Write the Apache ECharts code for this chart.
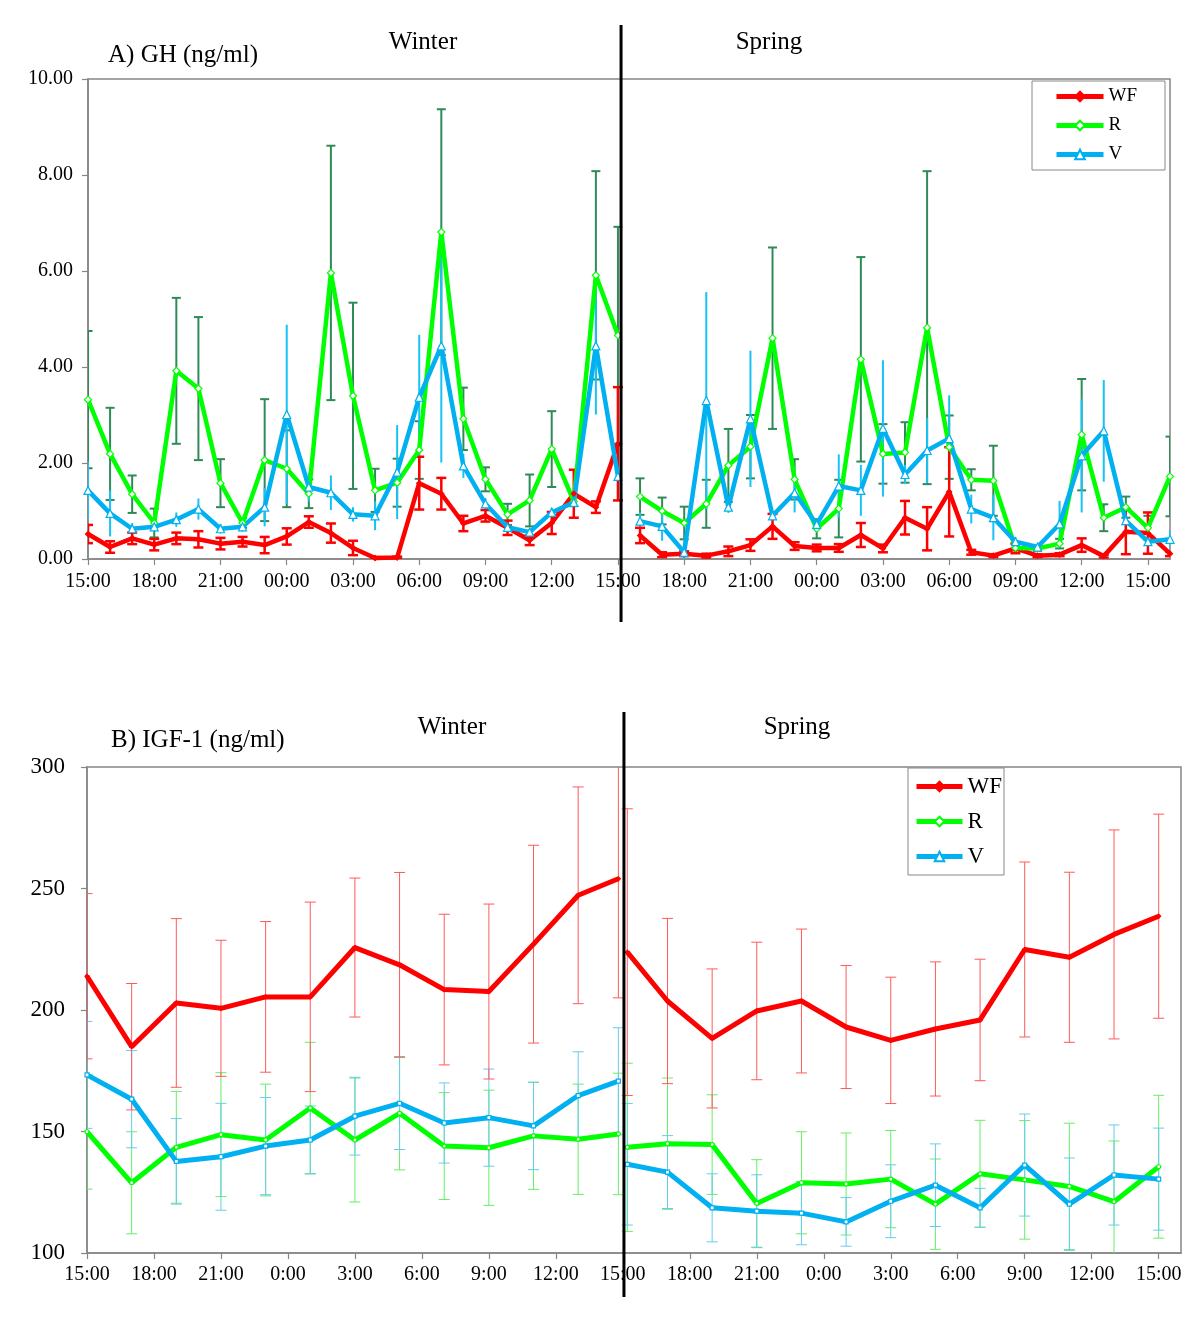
<!DOCTYPE html>
<html>
<head>
<meta charset="utf-8">
<script src="https://cdn.jsdelivr.net/npm/echarts@6/dist/echarts.min.js"></script>
<style>
html,body{margin:0;padding:0;background:#fff;}
#chart{width:1200px;height:1329px;}
</style>
</head>
<body>
<div id="chart"></div>
<script>
// ---------- Panel A: GH (ng/ml), hourly samples ----------
// hours elapsed since 15:00 on the first day
const ghWinterHours = [0,1,2,3,4,5,6,7,8,9,10,11,12,13,14,15,16,17,18,19,20,21,22,23,24];
const ghSpringHours = [25,26,27,28,29,30,31,32,33,34,35,36,37,38,39,40,41,42,43,44,45,46,47,48,49];
const tickLabelsA = ['15:00','18:00','21:00','00:00','03:00','06:00','09:00','12:00','15:00','18:00','21:00','00:00','03:00','06:00','09:00','12:00','15:00'];

const ghWF_winter    = [0.52,0.25,0.43,0.30,0.43,0.41,0.32,0.36,0.29,0.47,0.77,0.54,0.23,0.02,0.03,1.58,1.36,0.74,0.90,0.65,0.39,0.75,1.36,1.08,2.40];
const ghWF_winterErr = [0.19,0.12,0.12,0.12,0.12,0.17,0.12,0.10,0.17,0.17,0.12,0.20,0.15,0.02,0.02,0.55,0.33,0.16,0.12,0.15,0.10,0.23,0.50,0.12,1.18];
const ghR_winter     = [3.32,2.19,1.35,0.75,3.92,3.55,1.58,0.75,2.06,1.88,1.36,5.96,3.40,1.43,1.59,2.27,6.81,2.92,1.66,0.93,1.22,2.29,1.20,5.91,4.66];
const ghR_winterErr  = [1.43,0.96,0.39,0.30,1.52,1.49,0.50,0.10,1.27,0.80,0.30,2.65,1.94,0.45,0.50,0.60,2.56,0.65,0.25,0.22,0.54,0.79,0.10,2.17,2.26];
const ghV_winter     = [1.43,0.95,0.63,0.67,0.82,1.04,0.63,0.67,1.08,3.01,1.50,1.38,0.93,0.90,1.81,3.37,4.44,1.94,1.15,0.66,0.56,0.97,1.18,4.44,1.72];
const ghV_winterErr  = [0.60,0.48,0.12,0.05,0.15,0.22,0.10,0.10,0.40,1.87,0.30,0.36,0.15,0.30,0.98,1.30,2.43,0.25,0.12,0.10,0.05,0.10,0.10,1.43,0.30];

const ghWF_spring    = [0.49,0.09,0.11,0.07,0.16,0.29,0.68,0.27,0.23,0.23,0.50,0.22,0.86,0.63,1.40,0.14,0.07,0.22,0.07,0.09,0.29,0.06,0.57,0.54,0.11];
const ghWF_springErr = [0.16,0.05,0.05,0.04,0.10,0.12,0.26,0.08,0.07,0.08,0.25,0.08,0.35,0.45,0.93,0.05,0.03,0.10,0.03,0.03,0.14,0.03,0.47,0.43,0.05];
const ghR_spring     = [1.30,1.00,0.75,1.15,1.95,2.34,4.60,1.66,0.63,1.05,4.16,2.19,2.22,4.82,2.33,1.65,1.63,0.23,0.22,0.32,2.59,0.86,1.08,0.65,1.72];
const ghR_springErr  = [0.38,0.28,0.34,0.50,0.76,0.66,1.89,0.42,0.20,0.60,2.13,0.62,0.63,3.26,0.66,0.22,0.73,0.10,0.05,0.10,1.16,0.28,0.22,0.25,0.83];
const ghV_spring     = [0.79,0.68,0.14,3.30,1.08,2.92,0.90,1.38,0.72,1.52,1.43,2.72,1.76,2.26,2.51,1.04,0.86,0.36,0.25,0.73,2.15,2.67,0.80,0.36,0.41];
const ghV_springErr  = [0.18,0.30,0.25,2.26,0.12,1.42,0.10,0.41,0.10,0.66,0.53,1.42,0.20,0.68,0.90,0.30,0.47,0.10,0.06,0.48,1.18,1.06,0.25,0.10,0.20];

// ---------- Panel B: IGF-1 (ng/ml), 2-hourly samples ----------
const igfWinterHours = [0,2,4,6,8,10,12,14,16,18,20,22,23.8];
const igfSpringHours = [24.2,26,28,30,32,34,36,38,40,42,44,46,48];
const tickLabelsB = ['15:00','18:00','21:00','0:00','3:00','6:00','9:00','12:00','15:00','18:00','21:00','0:00','3:00','6:00','9:00','12:00','15:00'];

const igfWF_winter    = [213.9,184.9,202.9,200.7,205.4,205.4,225.7,218.6,208.4,207.6,227.1,247.2,254.0];
const igfWF_winterErr = [34,26,34.7,28,31,39,28.6,38,31,36,40.7,44.6,49];
const igfR_winter     = [149.9,128.9,143.5,148.7,146.5,159.7,146.5,157.5,144.0,143.3,148.2,146.8,149.0];
const igfR_winterErr  = [23.6,21,23,25.5,23,27,25.5,23.3,22,23.7,22,22.7,25];
const igfV_winter     = [173.3,163.3,137.7,139.6,144.0,146.5,156.3,161.6,153.5,155.7,152.3,164.8,170.7];
const igfV_winterErr  = [22,20,17.6,22,20,14,16,19,16.5,20,18,18,22];

const igfWF_spring    = [223.8,203.7,188.3,199.6,203.7,193.0,187.5,192.2,195.9,224.9,221.7,231.1,238.6];
const igfWF_springErr = [59,34,28.6,28.3,29.6,25.3,26,27.6,25,36,35,43,42];
const igfR_spring     = [143.5,145.0,144.6,120.4,128.9,128.4,130.4,120.1,132.6,130.1,127.4,121.1,135.5];
const igfR_springErr  = [34.6,27,20.5,18,21,21,20,18.6,22,24.4,26,25,29.4];
const igfV_spring     = [136.5,133.3,118.6,117.2,116.4,112.8,121.3,127.9,118.6,136.2,120.1,132.1,130.4];
const igfV_springErr  = [25,15,14,15,13,10,15,17,8,21,19,20.6,21];

const seasonSplitA = 24.14;
const seasonSplitB = 24.05;

// ---------- styling ----------
const FONT = 'Liberation Serif, Times New Roman, serif';
const RED = '#ff0000', GREEN = '#00ff00', BLUE = '#00b0f0';
const AXIS = '#868686';

const pairs = (hours, vals) => hours.map((h, i) => [h, vals[i]]);
const triples = (hours, vals, errs) => hours.map((h, i) => [h, vals[i], errs[i]]);

function errSeries(idx, data, color, width, cap) {
  return {
    type: 'custom', xAxisIndex: idx, yAxisIndex: idx, data: data, z: 2, clip: true,
    silent: true, legendHoverLink: false,
    renderItem: function (params, api) {
      const x = api.value(0), y = api.value(1), e = api.value(2);
      const hi = api.coord([x, y + e]);
      const lo = api.coord([x, y - e]);
      const style = { stroke: color, lineWidth: width };
      const children = [{ type: 'line', shape: { x1: hi[0], y1: hi[1], x2: lo[0], y2: lo[1] }, style: style }];
      if (cap > 0) {
        children.push({ type: 'line', shape: { x1: hi[0] - cap / 2, y1: hi[1], x2: hi[0] + cap / 2, y2: hi[1] }, style: style });
        children.push({ type: 'line', shape: { x1: lo[0] - cap / 2, y1: lo[1], x2: lo[0] + cap / 2, y2: lo[1] }, style: style });
      }
      return { type: 'group', children: children };
    }
  };
}

function lineSeries(idx, name, data, color, width, symbol, symSize, fill) {
  return {
    type: 'line', name: name, xAxisIndex: idx, yAxisIndex: idx, data: data, z: 3,
    symbol: symbol, symbolSize: symSize, showSymbol: true,
    lineStyle: { color: color, width: width },
    itemStyle: { color: fill, borderColor: color, borderWidth: 1.2 },
    emphasis: { disabled: true }, animation: false
  };
}

function xAxisDef(idx, labels, fontSize, margin) {
  const ticks = labels.map((_, i) => i * 3);
  return {
    type: 'value', gridIndex: idx, min: 0, max: 49, interval: 3,
    axisLine: { show: true, onZero: false, lineStyle: { color: AXIS, width: 1.5 } },
    axisTick: { show: true, inside: false, length: 6, lineStyle: { color: AXIS, width: 1.2 }, customValues: ticks },
    axisLabel: {
      customValues: ticks, margin: margin, color: '#000', fontFamily: FONT, fontSize: fontSize,
      formatter: v => { const k = Math.round(v / 3); return (Math.abs(v - k * 3) < 1e-6 && labels[k] !== undefined) ? labels[k] : ''; }
    },
    splitLine: { show: false }
  };
}

const option = {
  animation: false,
  backgroundColor: '#ffffff',
  grid: [
    { left: 88, top: 79, width: 1082, height: 480, show: true, borderColor: AXIS, borderWidth: 1.5, containLabel: false },
    { left: 87, top: 767, width: 1094, height: 486, show: true, borderColor: AXIS, borderWidth: 1.5, containLabel: false }
  ],
  xAxis: [ xAxisDef(0, tickLabelsA, 20, 13), xAxisDef(1, tickLabelsB, 20, 12) ],
  yAxis: [
    { type: 'value', gridIndex: 0, min: 0, max: 10, interval: 2,
      axisLine: { show: true, lineStyle: { color: AXIS, width: 1.5 } },
      axisTick: { show: true, length: 6, lineStyle: { color: AXIS, width: 1.2 } },
      axisLabel: { color: '#000', fontFamily: FONT, fontSize: 20, margin: 15, formatter: v => v.toFixed(2) },
      splitLine: { show: false } },
    { type: 'value', gridIndex: 1, min: 100, max: 300, interval: 50,
      axisLine: { show: true, lineStyle: { color: AXIS, width: 1.5 } },
      axisTick: { show: true, length: 6, lineStyle: { color: AXIS, width: 1.2 } },
      axisLabel: { color: '#000', fontFamily: FONT, fontSize: 23, margin: 22 },
      splitLine: { show: false } }
  ],
  legend: [
    { data: ['WF', 'R', 'V'], orient: 'vertical', left: 1032, top: 81,
      padding: [6, 28, 6, 22], itemGap: 10, itemWidth: 47, itemHeight: 12,
      lineStyle: { width: 5 },
      borderColor: '#888', borderWidth: 1, backgroundColor: '#fff',
      textStyle: { color: '#000', fontFamily: FONT, fontSize: 19 }, selectedMode: false },
    { data: ['WF', 'R', 'V'], orient: 'vertical', left: 908, top: 768,
      padding: [7, 2, 7, 6], itemGap: 12, itemWidth: 46, itemHeight: 12,
      lineStyle: { width: 5 },
      borderColor: '#888', borderWidth: 1, backgroundColor: '#fff',
      textStyle: { color: '#000', fontFamily: FONT, fontSize: 23 }, selectedMode: false }
  ],
  series: [
    // Panel A error bars
    errSeries(0, triples(ghWinterHours, ghR_winter, ghR_winterErr), '#2e8b57', 2, 9),
    errSeries(0, triples(ghSpringHours, ghR_spring, ghR_springErr), '#2e8b57', 2, 9),
    errSeries(0, triples(ghWinterHours, ghV_winter, ghV_winterErr), '#16c3f5', 2, 0),
    errSeries(0, triples(ghSpringHours, ghV_spring, ghV_springErr), '#16c3f5', 2, 0),
    errSeries(0, triples(ghWinterHours, ghWF_winter, ghWF_winterErr), RED, 2.5, 10),
    errSeries(0, triples(ghSpringHours, ghWF_spring, ghWF_springErr), RED, 2.5, 10),
    // Panel A lines
    lineSeries(0, 'WF', pairs(ghWinterHours, ghWF_winter), RED, 4.5, 'diamond', 5, RED),
    lineSeries(0, 'WF', pairs(ghSpringHours, ghWF_spring), RED, 4.5, 'diamond', 5, RED),
    lineSeries(0, 'R', pairs(ghWinterHours, ghR_winter), GREEN, 4.5, 'diamond', 7, '#ffffff'),
    lineSeries(0, 'R', pairs(ghSpringHours, ghR_spring), GREEN, 4.5, 'diamond', 7, '#ffffff'),
    lineSeries(0, 'V', pairs(ghWinterHours, ghV_winter), BLUE, 4.5, 'triangle', 8, '#ffffff'),
    lineSeries(0, 'V', pairs(ghSpringHours, ghV_spring), BLUE, 4.5, 'triangle', 8, '#ffffff'),
    // Panel B error bars
    errSeries(1, triples(igfWinterHours, igfR_winter, igfR_winterErr), '#66ee66', 1, 11),
    errSeries(1, triples(igfSpringHours, igfR_spring, igfR_springErr), '#66ee66', 1, 11),
    errSeries(1, triples(igfWinterHours, igfV_winter, igfV_winterErr), '#66ccee', 1, 11),
    errSeries(1, triples(igfSpringHours, igfV_spring, igfV_springErr), '#66ccee', 1, 11),
    errSeries(1, triples(igfWinterHours, igfWF_winter, igfWF_winterErr), '#ff5a5a', 1, 11),
    errSeries(1, triples(igfSpringHours, igfWF_spring, igfWF_springErr), '#ff5a5a', 1, 11),
    // Panel B lines
    lineSeries(1, 'WF', pairs(igfWinterHours, igfWF_winter), RED, 5, 'diamond', 4, RED),
    lineSeries(1, 'WF', pairs(igfSpringHours, igfWF_spring), RED, 5, 'diamond', 4, RED),
    lineSeries(1, 'R', pairs(igfWinterHours, igfR_winter), GREEN, 5, 'circle', 4, '#ffffff'),
    lineSeries(1, 'R', pairs(igfSpringHours, igfR_spring), GREEN, 5, 'circle', 4, '#ffffff'),
    lineSeries(1, 'V', pairs(igfWinterHours, igfV_winter), BLUE, 5, 'rect', 4, '#ffffff'),
    lineSeries(1, 'V', pairs(igfSpringHours, igfV_spring), BLUE, 5, 'rect', 4, '#ffffff')
  ]
};

const chart = echarts.init(document.getElementById('chart'), null, { renderer: 'canvas' });
chart.setOption(option);

const xa = chart.convertToPixel({ gridIndex: 0 }, [seasonSplitA, 0])[0];
const xb = chart.convertToPixel({ gridIndex: 1 }, [seasonSplitB, 100])[0];
const txt = (x, y, text, align) => ({
  type: 'text', x: x, y: y, z: 10,
  style: { text: text, fill: '#000', font: '25px ' + FONT, textAlign: align, textVerticalAlign: 'middle' }
});
chart.setOption({
  graphic: [
    txt(108, 55, 'A) GH (ng/ml)', 'left'),
    txt(423, 42, 'Winter', 'center'),
    txt(769, 42, 'Spring', 'center'),
    txt(111, 740, 'B) IGF-1 (ng/ml)', 'left'),
    txt(452, 727, 'Winter', 'center'),
    txt(797, 727, 'Spring', 'center'),
    { type: 'line', z: 20, shape: { x1: xa, y1: 25, x2: xa, y2: 622 }, style: { stroke: '#000', lineWidth: 3 } },
    { type: 'line', z: 20, shape: { x1: xb, y1: 712, x2: xb, y2: 1297 }, style: { stroke: '#000', lineWidth: 3 } }
  ]
});
</script>
</body>
</html>
